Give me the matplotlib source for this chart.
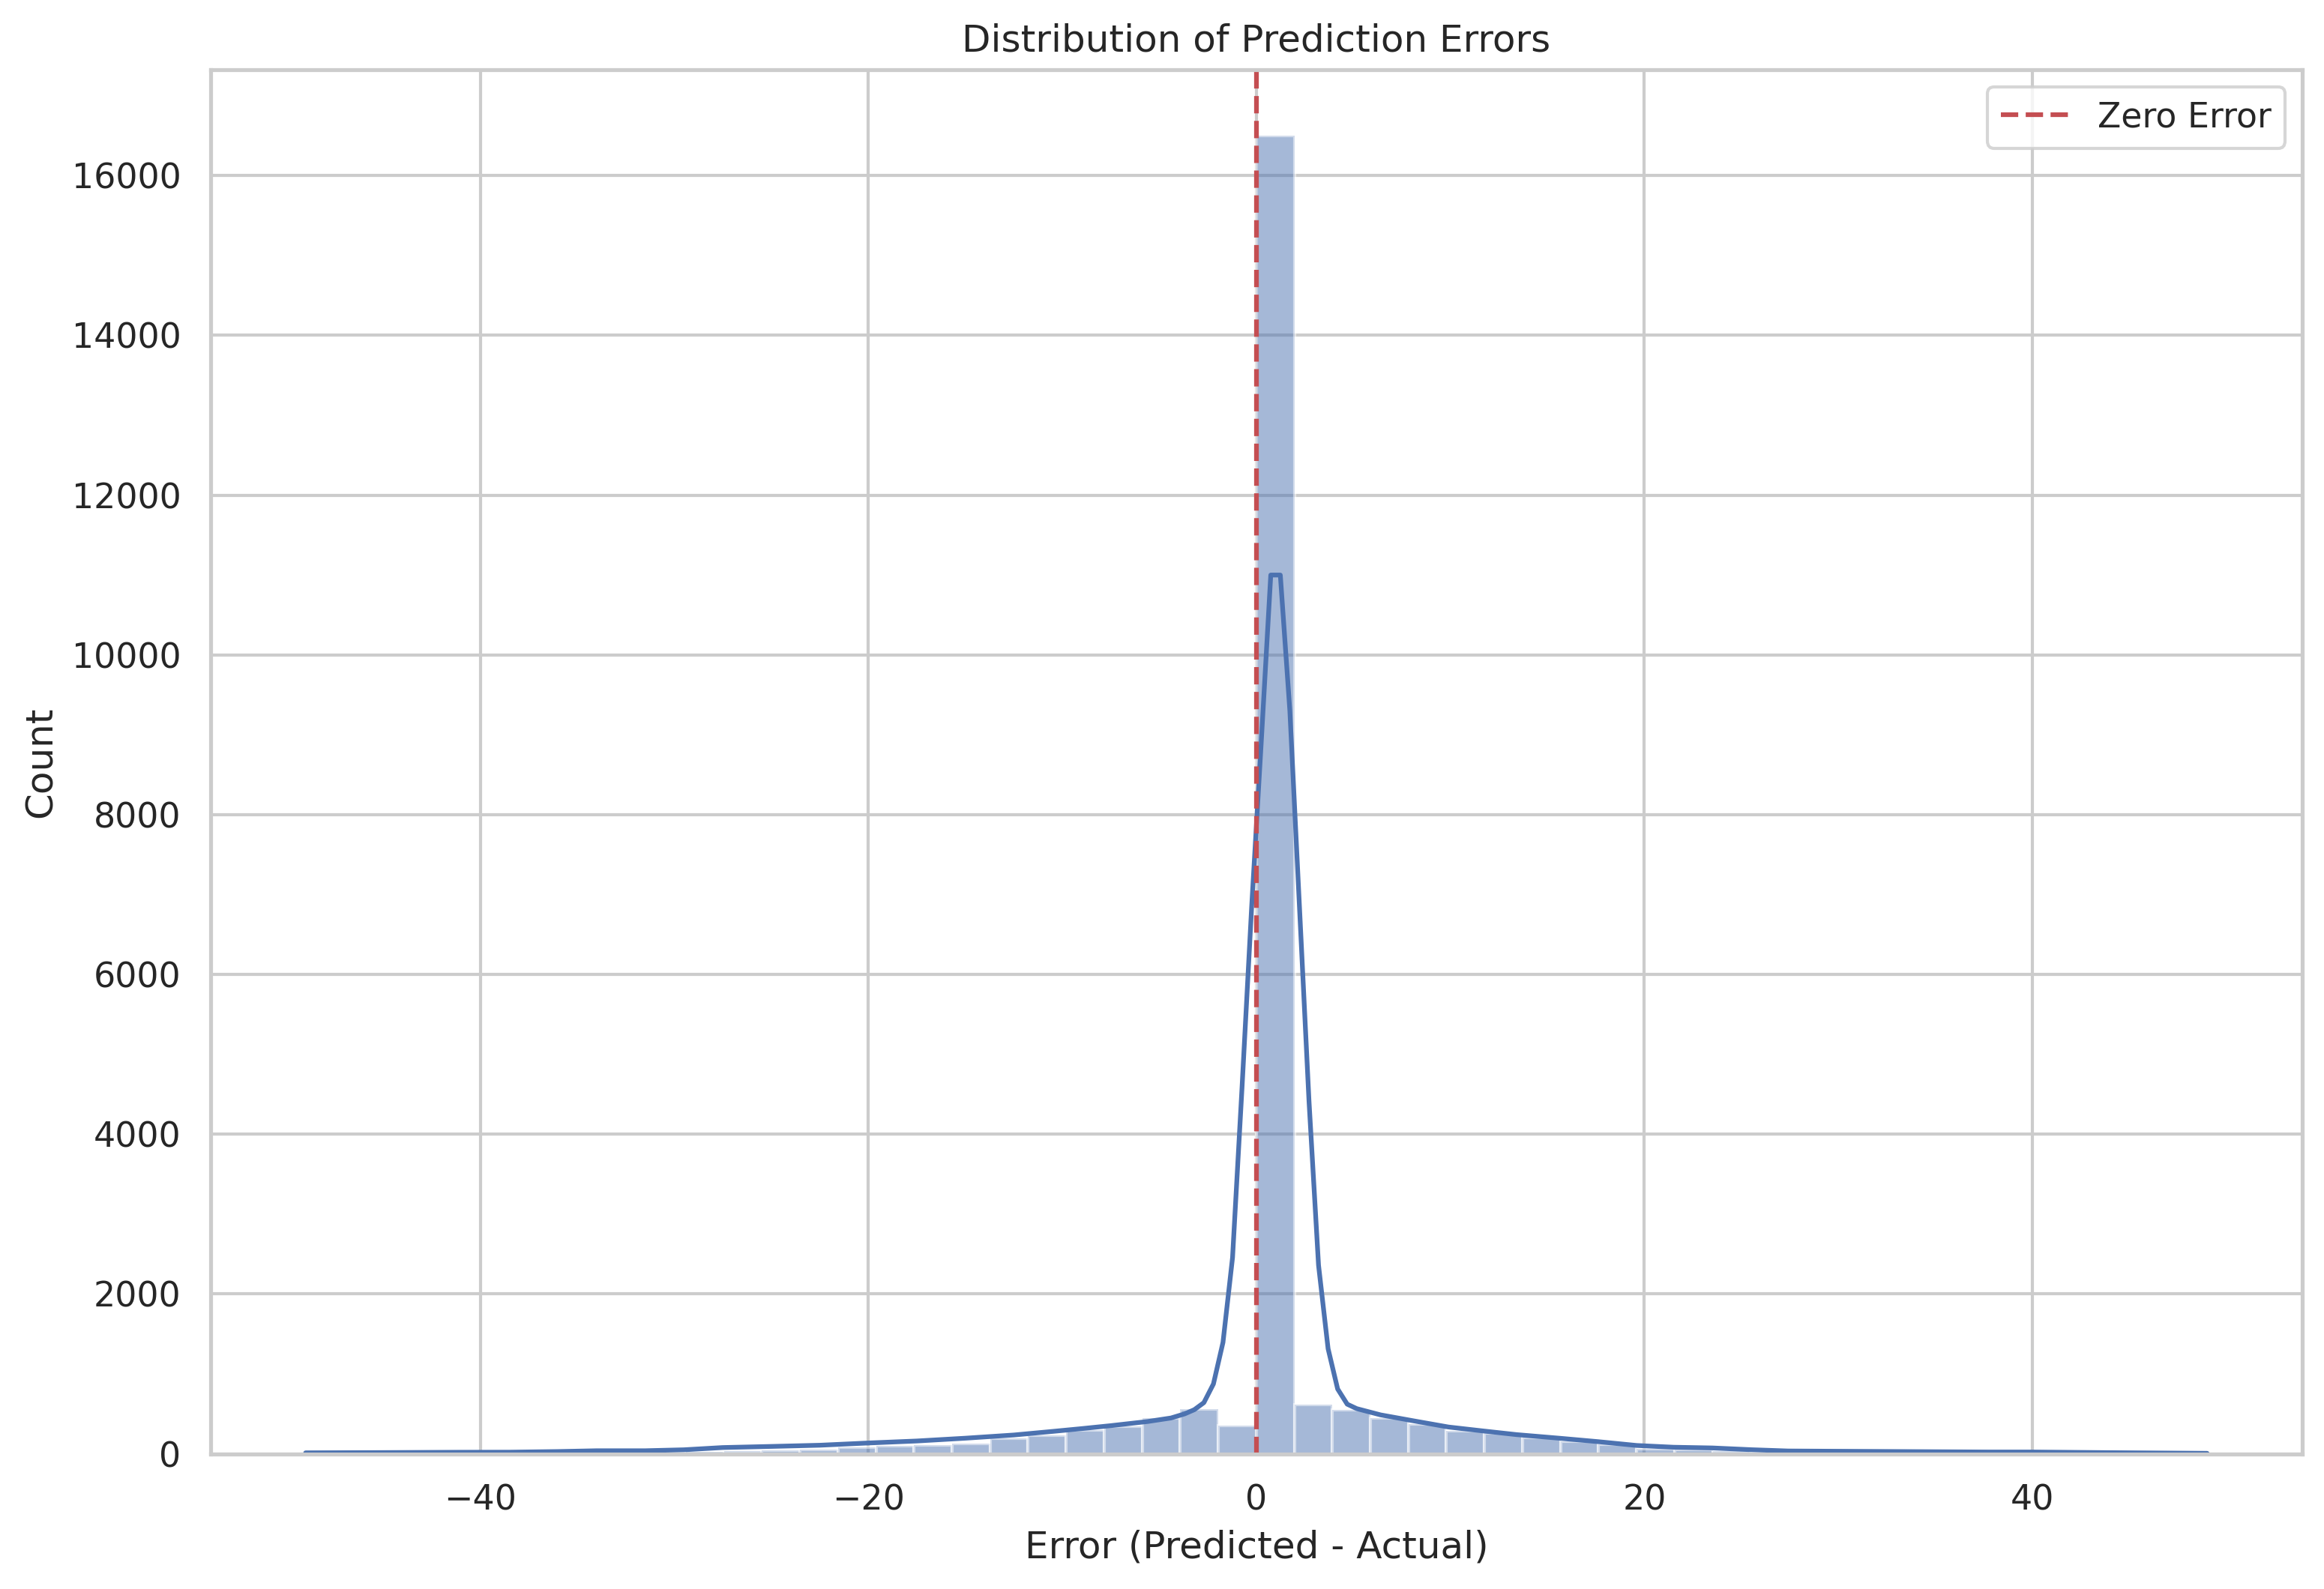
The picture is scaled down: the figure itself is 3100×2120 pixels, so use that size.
import numpy as np
import matplotlib
matplotlib.use("Agg")
import matplotlib.pyplot as plt
import seaborn as sns

# histogram counts, 50 bins between -49 and 49
bin_edges = np.linspace(-49, 49, 51)
counts = [3, 4, 5, 6, 7, 8, 8, 9, 10, 16,
          25, 37, 44, 56, 81, 97, 113, 132, 193, 235,
          297, 340, 442, 556, 350, 16500, 613, 547, 445, 373,
          285, 262, 202, 155, 114, 60, 50, 35, 19, 15,
          14, 13, 12, 11, 10, 9, 8, 6, 5, 3]

# kde curve (scaled to counts)
kde_x = [-49.0, -45.0, -41.0, -38.5, -36.0, -34.0, -31.5, -29.5, -27.5, -25.0,
         -22.5, -20.0, -17.5, -15.0, -12.5, -10.5, -9.0, -7.5, -5.6, -4.4,
         -3.69, -3.1975, -2.705, -2.2125, -1.72, -1.2275, -0.735, -0.2425, 0.25, 0.7425,
         1.235, 1.7275, 2.22, 2.7125, 3.205, 3.6975, 4.19, 4.6825, 5.175, 6.4,
         8.2, 9.9, 11.6, 13.4, 15.7, 17.6, 19.6, 21.5, 23.5, 25.5,
         27.4, 29.6, 33.0, 37.7, 40.0, 44.0, 49.0]
kde_y = [12, 15, 19, 20, 28, 38, 38, 50, 78, 92,
         107, 135, 160, 195, 235, 280, 315, 352, 404, 448,
         500, 552, 640, 874, 1394, 2456, 4600, 6845, 8900, 11000,
         11000, 9300, 6857, 4419, 2360, 1315, 811, 621, 565, 487,
         408, 335, 288, 240, 193, 152, 104, 82, 73, 51,
         35, 32, 28, 22, 22, 14, 6]

sns.set_theme(style="whitegrid")
blue = sns.color_palette("deep")[0]
red = sns.color_palette("deep")[3]

fig, ax = plt.subplots(figsize=(3100 / 300, 2120 / 300))
fig.subplots_adjust(left=0.0906, right=0.9906, bottom=0.0851, top=0.9561)

ax.bar(bin_edges[:-1], counts, width=np.diff(bin_edges), align="edge",
       color=blue, alpha=0.5, edgecolor="white", linewidth=1.0)
ax.plot(kde_x, kde_y, color=blue, linewidth=1.5)
ax.axvline(0, color=red, linestyle="--", linewidth=1.5, label="Zero Error")

ax.set_title("Distribution of Prediction Errors")
ax.set_xlabel("Error (Predicted - Actual)")
ax.set_ylabel("Count")
ax.legend(loc="upper right")

plt.savefig("out.png", dpi=300)
plt.close(fig)
